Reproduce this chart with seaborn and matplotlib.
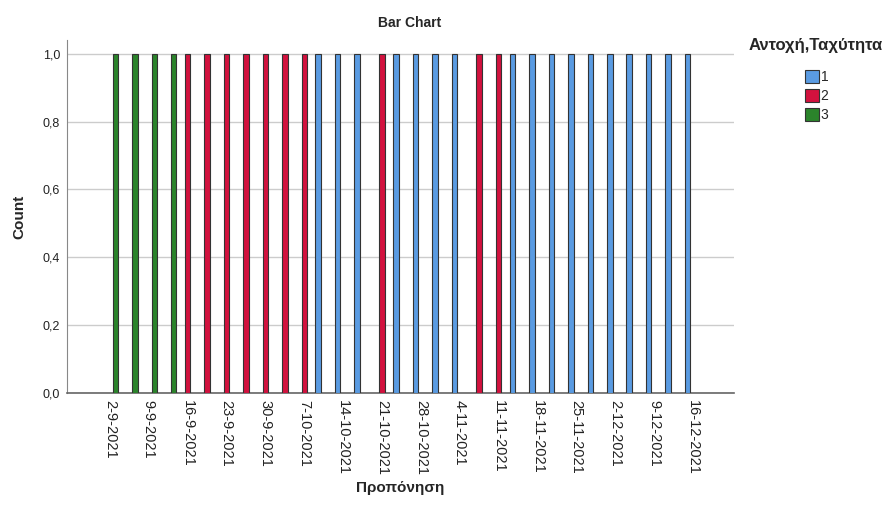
import seaborn as sns
import pandas as pd
import matplotlib.pyplot as plt
from matplotlib.patches import Patch

# training dates (Thursday + Monday sessions), only every other one gets a label
dates = ["2-9-2021", "6-9-2021", "9-9-2021", "13-9-2021", "16-9-2021", "20-9-2021",
         "23-9-2021", "27-9-2021", "30-9-2021", "4-10-2021", "7-10-2021", "11-10-2021",
         "14-10-2021", "18-10-2021", "21-10-2021", "25-10-2021", "28-10-2021", "1-11-2021",
         "4-11-2021", "8-11-2021", "11-11-2021", "15-11-2021", "18-11-2021", "22-11-2021",
         "25-11-2021", "29-11-2021", "2-12-2021", "6-12-2021", "9-12-2021", "13-12-2021",
         "16-12-2021"]
groups = ["3", "3", "3", "3",
          "2", "2", "2", "2", "2", "2", "2",
          "1", "1", "1",
          "2",
          "1", "1", "1", "1",
          "2", "2",
          "1", "1", "1", "1", "1", "1", "1", "1", "1", "1"]
levels = ["1", "2", "3"]
colors = {"1": "#5A9BE2", "2": "#D2123E", "3": "#2B842B"}

df = pd.DataFrame({"Προπόνηση": dates, "group": groups})

sns.set_style("white")
plt.rcParams["font.family"] = ["Liberation Sans", "DejaVu Sans"]

fig = plt.figure(figsize=(8.95, 5.2), dpi=100)
ax = fig.add_axes([0.075, 0.244, 0.745, 0.679])

sns.countplot(data=df, x="Προπόνηση", hue="group", order=dates, hue_order=levels,
              palette=colors, saturation=1, dodge=True, width=0.85,
              edgecolor="#333333", linewidth=0.8, legend=False, ax=ax, zorder=3)

ax.set_ylim(0, 1.04)
ax.set_xlim(-2.2, 32.1)
ax.set_yticks([0, 0.2, 0.4, 0.6, 0.8, 1.0])
ax.set_yticklabels(["0,0", "0,2", "0,4", "0,6", "0,8", "1,0"], fontsize=9, color="#222222")
ax.set_xticks(range(0, len(dates), 2))
ax.set_xticklabels(dates[::2], rotation=-90, fontsize=10.5, color="#222222")
ax.tick_params(length=0, pad=5)
ax.grid(axis="y", color="#CCCCCC", linewidth=1, zorder=0)
ax.set_axisbelow(True)
for s in ["top", "right"]:
    ax.spines[s].set_visible(False)
ax.spines["left"].set_color("#888888")
ax.spines["bottom"].set_color("#666666")
ax.spines["bottom"].set_linewidth(1.2)

ax.set_ylabel("Count", fontsize=11, fontweight="bold", labelpad=12)
ax.set_xlabel("Προπόνηση", fontsize=11, fontweight="bold", labelpad=4)
fig.text(0.458, 0.955, "Bar Chart", ha="center", va="center", fontsize=10, fontweight="bold")

fig.text(0.911, 0.912, "Αντοχή,Ταχύτητα", ha="center", va="center", fontsize=12, fontweight="bold")
handles = [Patch(facecolor=colors[l], edgecolor="#333333", linewidth=0.8, label=l) for l in levels]
fig.legend(handles=handles, loc="upper left", bbox_to_anchor=(0.892, 0.878), frameon=False,
           fontsize=10, handlelength=1.0, handleheight=1.0, handletextpad=0.1,
           labelspacing=0.35, borderpad=0)

fig.savefig("out.png", dpi=100)
